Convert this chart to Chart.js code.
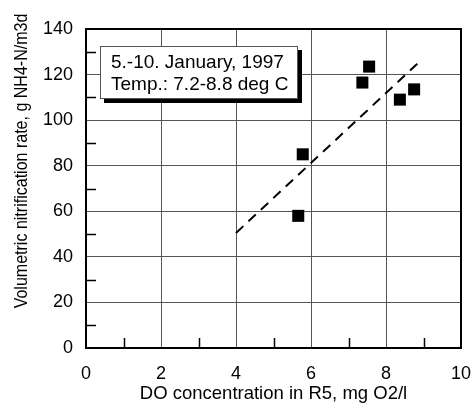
<!DOCTYPE html>
<html>
<head>
<meta charset="utf-8">
<script src="https://cdn.jsdelivr.net/npm/chart.js@4"></script>
<style>
  body { margin: 0; background: #fff; }
</style>
</head>
<body>
<canvas id="do_chart" width="472" height="405"></canvas>
<script>
// measured points, DO in R5 vs nitrification rate
const doConc = [5.66, 5.78, 7.37, 7.55, 8.37, 8.75];
const nitrRate = [58, 85, 116.5, 123.5, 109, 113.5];
// dashed regression line ends
const fitDo = [4, 8.95];
const fitRate = [50.5, 126.5];
const xMinorTicks = [1, 3, 5, 7, 9];
const yMinorTicks = [10, 30, 50, 70, 90, 110, 130];
const boxLines = ["5.-10. January, 1997", "Temp.: 7.2-8.8 deg C"];
const yTitle = "Volumetric nitrification rate, g NH4-N/m3d";

const fontFamily = "'Liberation Sans', Arial, Helvetica, sans-serif";

const frame = {
    id: "frame",
    afterDraw(chart) {
        const ctx = chart.ctx;
        const area = chart.chartArea;
        const xs = chart.scales.x;
        const ys = chart.scales.y;
        ctx.save();
        ctx.strokeStyle = "#000";
        ctx.lineWidth = 2;
        ctx.strokeRect(area.left, area.top, area.right - area.left, area.bottom - area.top);
        ctx.lineWidth = 1.5;
        ctx.beginPath();
        xMinorTicks.forEach((v) => {
            const px = Math.round(xs.getPixelForValue(v)) + 0.5;
            ctx.moveTo(px, area.bottom);
            ctx.lineTo(px, area.bottom - 10);
        });
        yMinorTicks.forEach((v) => {
            const py = Math.round(ys.getPixelForValue(v)) + 0.5;
            ctx.moveTo(area.left, py);
            ctx.lineTo(area.left + 10, py);
        });
        ctx.stroke();

        // text box with drop shadow
        const bx = area.left + 14, by = area.top + 17, bw = 198, bh = 53;
        ctx.fillStyle = "#000";
        ctx.fillRect(bx + 4, by + 4, bw, bh);
        ctx.fillStyle = "#fff";
        ctx.fillRect(bx, by, bw, bh);
        ctx.lineWidth = 1;
        ctx.strokeStyle = "#555";
        ctx.strokeRect(bx + 0.5, by + 0.5, bw - 1, bh - 1);
        ctx.fillStyle = "#000";
        ctx.font = "19px " + fontFamily;
        ctx.textBaseline = "alphabetic";
        ctx.textAlign = "left";
        boxLines.forEach((t, i) => ctx.fillText(t, bx + 11, by + 22 + i * 22));

        // y axis title, a bit above the middle of the axis and squeezed along its length
        ctx.translate(22, 161);
        ctx.rotate(-Math.PI / 2);
        ctx.scale(0.89, 1);
        ctx.font = "18px " + fontFamily;
        ctx.textAlign = "center";
        ctx.textBaseline = "middle";
        ctx.fillText(yTitle, 0, 0);
        ctx.restore();
    }
};

const config = {
    type: "scatter",
    data: {
        datasets: [
            {
                data: doConc.map((d, i) => ({ x: d, y: nitrRate[i] })),
                pointStyle: "rect",
                pointRadius: 8.5,
                pointHoverRadius: 8.5,
                backgroundColor: "#000",
                borderWidth: 0
            },
            {
                type: "line",
                data: fitDo.map((d, i) => ({ x: d, y: fitRate[i] })),
                borderColor: "#000",
                borderWidth: 2,
                borderDash: [10, 7],
                pointRadius: 0,
                fill: false
            }
        ]
    },
    options: {
        responsive: false,
        animation: false,
        events: [],
        layout: { padding: { top: 29, right: 11, left: 0, bottom: 0 } },
        scales: {
            x: {
                type: "linear",
                min: 0,
                max: 10,
                afterFit: (s) => { s.height = 57; },
                ticks: {
                    stepSize: 2,
                    padding: 0,
                    color: "#000",
                    font: { family: fontFamily, size: 18 }
                },
                grid: { color: "#555", lineWidth: 1, drawTicks: true, tickLength: 15, tickColor: "rgba(0,0,0,0)" },
                border: { display: false },
                title: {
                    display: true,
                    text: "DO concentration in R5, mg O2/l",
                    color: "#000",
                    font: { family: fontFamily, size: 18.5 },
                    padding: { top: 0, bottom: 0 }
                }
            },
            y: {
                min: 0,
                max: 140,
                afterFit: (s) => { s.width = 86; },
                ticks: {
                    stepSize: 20,
                    padding: 0,
                    color: "#000",
                    font: { family: fontFamily, size: 18 }
                },
                grid: { color: "#555", lineWidth: 1, drawTicks: true, tickLength: 13, tickColor: "rgba(0,0,0,0)" },
                border: { display: false },
                title: { display: false }
            }
        },
        plugins: {
            legend: { display: false },
            tooltip: { enabled: false }
        }
    },
    plugins: [frame]
};

new Chart(document.getElementById("do_chart"), config);
</script>
</body>
</html>
